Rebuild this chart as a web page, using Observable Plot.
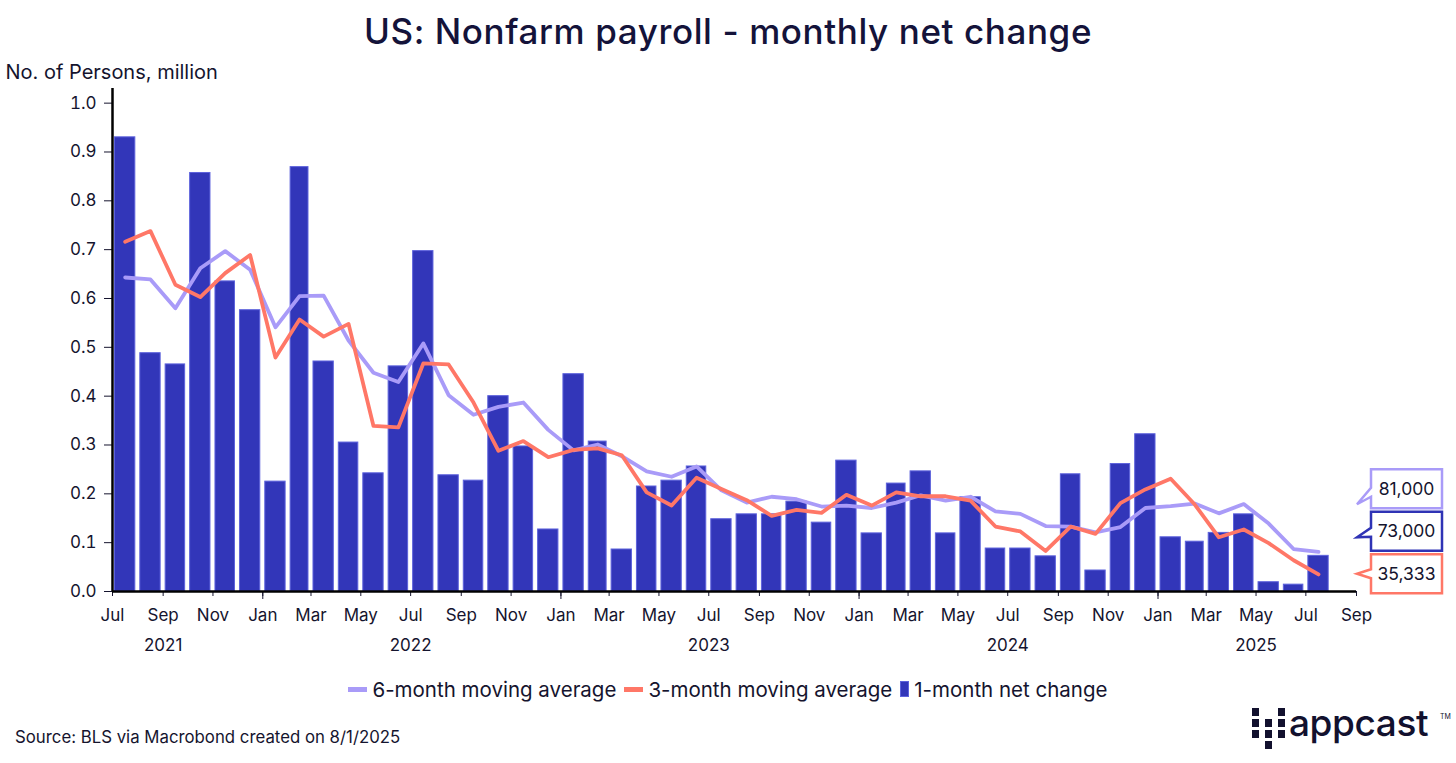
<!DOCTYPE html>
<html><head><meta charset="utf-8">
<script src="https://cdn.jsdelivr.net/npm/d3@7"></script>
<script src="https://cdn.jsdelivr.net/npm/@observablehq/plot@0.6"></script>
<style>
body{margin:0;background:#fff;font-family:Inter,"Noto Sans",sans-serif;color:#15142e;}
#wrap{position:relative;width:1456px;height:763px;overflow:hidden;background:#fff;}
#title{position:absolute;top:0;left:0;width:1456px;height:62px;line-height:62px;text-align:center;font-size:35px;font-weight:500;letter-spacing:0.6px;color:#14133a;}
#chart{position:absolute;top:60px;left:0;}
#legend{position:absolute;top:672px;left:0;width:1456px;height:34px;display:flex;justify-content:center;align-items:center;font-size:20.5px;color:#15142e;}
.item{display:flex;align-items:center;margin:0 4px;}
.sw{display:inline-block;margin-right:5px;}
#source{position:absolute;left:15px;top:726px;font-size:16.8px;line-height:22px;color:#15142e;}
#logo{position:absolute;left:1252px;top:704px;width:200px;height:50px;}
#logo .sq{position:absolute;width:7px;height:8px;background:#12112e;}
#logo .txt{position:absolute;left:37px;top:-3px;font-size:37px;line-height:44px;font-weight:500;letter-spacing:-0.4px;color:#12112e;}
#logo .tm{position:absolute;left:188px;top:8px;font-size:7px;color:#12112e;}
</style></head>
<body>
<div id="wrap">
  <div id="title">US: Nonfarm payroll - monthly net change</div>
  <div id="chart"></div>
  <div id="legend"></div>
  <div id="source">Source: BLS via Macrobond created on 8/1/2025</div>
  <div id="logo"></div>
</div>
<script>
// ---- data (million persons), Jul 2021 .. Jul 2025 ----
const startMonth = "2021-07";
const endMonth = "2025-07";
const net = [0.930,0.488,0.465,0.857,0.635,0.576,0.225,0.869,0.471,0.305,0.242,0.461,
  0.697,0.238,0.227,0.400,0.297,0.127,0.445,0.307,0.086,0.215,0.227,0.256,
  0.148,0.158,0.158,0.184,0.141,0.268,0.119,0.221,0.246,0.119,0.193,0.088,
  0.088,0.072,0.240,0.043,0.261,0.322,0.111,0.102,0.120,0.158,0.019,0.014,0.073];
const ma3 = [0.716,0.738,0.628,0.603,0.652,0.689,0.479,0.557,0.522,0.548,0.339,0.336,
  0.467,0.465,0.387,0.288,0.308,0.275,0.290,0.293,0.279,0.203,0.176,0.233,
  0.210,0.187,0.155,0.167,0.161,0.198,0.176,0.203,0.195,0.195,0.186,0.133,
  0.123,0.083,0.133,0.118,0.181,0.209,0.231,0.178,0.111,0.127,0.099,0.064,0.035];
const ma6 = [0.643,0.639,0.580,0.662,0.697,0.659,0.541,0.605,0.606,0.514,0.448,0.429,
  0.508,0.402,0.362,0.378,0.387,0.331,0.289,0.301,0.277,0.246,0.235,0.256,
  0.207,0.182,0.194,0.189,0.174,0.176,0.171,0.182,0.197,0.186,0.194,0.164,
  0.159,0.134,0.133,0.121,0.132,0.171,0.175,0.180,0.160,0.179,0.139,0.087,0.081];
const yTicks = [0,0.1,0.2,0.3,0.4,0.5,0.6,0.7,0.8,0.9,1.0];
const yearLabels = [["2021-09","2021"],["2022-07","2022"],["2023-07","2023"],["2024-07","2024"],["2025-05","2025"]];
const endLabelTexts = ["81,000","73,000","35,333"];
const endLabelValues = [0.081,0.073,0.035333];
const seriesNames = ["6-month moving average","3-month moving average","1-month net change"];

// ---- colours / styles ----
const C_BAR = "#3236b9", C_BAR_EDGE = "#5d62dc", C_MA6 = "#a99bf8", C_MA3 = "#ff7767", C_TXT = "#15142e";

const parseM = d3.utcParse("%Y-%m");
const x0 = parseM(startMonth);
const xEndDom = d3.utcMonth.offset(parseM(endMonth), 2); // Sep 2025
const months = d3.utcMonth.range(x0, d3.utcMonth.offset(parseM(endMonth), 1));
const rows = months.map((d, i) => {
  const e = d3.utcMonth.offset(d, 1);
  return {start: d, end: e, mid: new Date((+d + +e) / 2), net: net[i], ma3: ma3[i], ma6: ma6[i]};
});
const tickDates = d3.utcMonth.range(x0, d3.utcMonth.offset(xEndDom, 1), 2);
const janDates = tickDates.filter(d => d.getUTCMonth() === 0);
const years = yearLabels.map(([m, t]) => ({date: parseM(m), label: t}));

const plot = Plot.plot({
  width: 1456, height: 610,
  marginLeft: 112, marginRight: 100, marginTop: 28, marginBottom: 79,
  style: {fontFamily: "Inter, 'Noto Sans', sans-serif", fontSize: "17px", color: C_TXT, background: "white", overflow: "visible"},
  x: {type: "utc", domain: [x0, xEndDom]},
  y: {domain: [0, 1.03]},
  marks: [
    Plot.rect(rows, {x1: "start", x2: "end", y1: () => 0, y2: "net", fill: C_BAR, stroke: C_BAR_EDGE, strokeWidth: 1, insetLeft: 2.5, insetRight: 2.5}),
    Plot.lineY(rows, {x: "mid", y: "ma6", stroke: C_MA6, strokeWidth: 3.8}),
    Plot.lineY(rows, {x: "mid", y: "ma3", stroke: C_MA3, strokeWidth: 3.8}),
    Plot.axisY({ticks: yTicks, tickFormat: ".1f", tickSize: 8, tickPadding: 8, label: null, color: C_TXT}),
    Plot.axisX({ticks: tickDates, tickFormat: d3.utcFormat("%b"), tickSize: 5, tickPadding: 12, label: null, color: C_TXT}),
    Plot.axisX({ticks: janDates, tickFormat: () => "", tickSize: 8, label: null, color: C_TXT}),
    Plot.ruleY([0], {stroke: "#000", strokeWidth: 2.5}),
    Plot.ruleX([x0], {stroke: "#000", strokeWidth: 2.5}),
    Plot.text(years, {x: "date", text: "label", frameAnchor: "bottom", dy: 54, lineAnchor: "middle", fill: C_TXT}),
    Plot.text(["No. of Persons, million"], {frameAnchor: "top-left", dx: -107, dy: -16, textAnchor: "start", lineAnchor: "middle", fontSize: 20, fill: C_TXT})
  ]
});
document.getElementById("chart").appendChild(plot);

// ---- end-value callouts ----
const sy = plot.scale("y"), sx = plot.scale("x");
const fy = sy.apply ? (v => sy.apply(v)) : d3.scaleLinear(sy.domain, sy.range);
const fx = sx.apply ? (v => sx.apply(v)) : d3.scaleUtc(sx.domain, sx.range);
const xEnd = fx(xEndDom);
const labelColors = [C_MA6, "#2f33b5", C_MA3];
const tails = [{k: 3.5, t: 15.5}, {k: 1, t: 6}, {k: 0, t: 0}];
const svg = d3.select(plot);
const g = svg.append("g");
const spacing = 42.5, bw = 71, bh = 39;
let cyLow = fy(endLabelValues[2]);
endLabelTexts.forEach((txt, i) => {
  const cy = cyLow - (2 - i) * spacing;
  const bx = xEnd + 15, tip = xEnd + 1;
  const {k, t} = tails[i];
  const p = `M${bx},${cy - bh/2}H${bx + bw}V${cy + bh/2}H${bx}V${cy + k + 4.5}L${tip},${cy + t}L${bx},${cy + k - 4.5}Z`;
  g.append("path").attr("d", p).attr("fill", "white").attr("stroke", labelColors[i]).attr("stroke-width", 2.5);
  g.append("text").attr("x", bx + bw/2).attr("y", cy).attr("dy", "0.35em").attr("text-anchor", "middle")
    .attr("font-size", 17.5).attr("fill", C_TXT).text(txt);
});

// ---- legend ----
const leg = d3.select("#legend");
const swatches = [
  {w: 19, h: 5, c: C_MA6, b: "none"},
  {w: 19, h: 5, c: C_MA3, b: "none"},
  {w: 7, h: 14, c: C_BAR, b: "1px solid " + C_BAR_EDGE}
];
seriesNames.forEach((n, i) => {
  const it = leg.append("div").attr("class", "item");
  const s = swatches[i];
  it.append("span").attr("class", "sw").style("width", s.w + "px").style("height", s.h + "px").style("background", s.c).style("border", s.b);
  it.append("span").text(n);
});

// ---- logo ----
const logo = d3.select("#logo");
const cells = [[0,0],[2,0],[0,1],[1,1],[2,1],[0,2],[1,2],[2,2],[1,3]];
cells.forEach(([c, r]) => logo.append("div").attr("class", "sq").style("left", (c * 13) + "px").style("top", (4 + r * 11) + "px"));
logo.append("div").attr("class", "txt").text("appcast");
logo.append("div").attr("class", "tm").text("TM");
</script>
</body></html>
